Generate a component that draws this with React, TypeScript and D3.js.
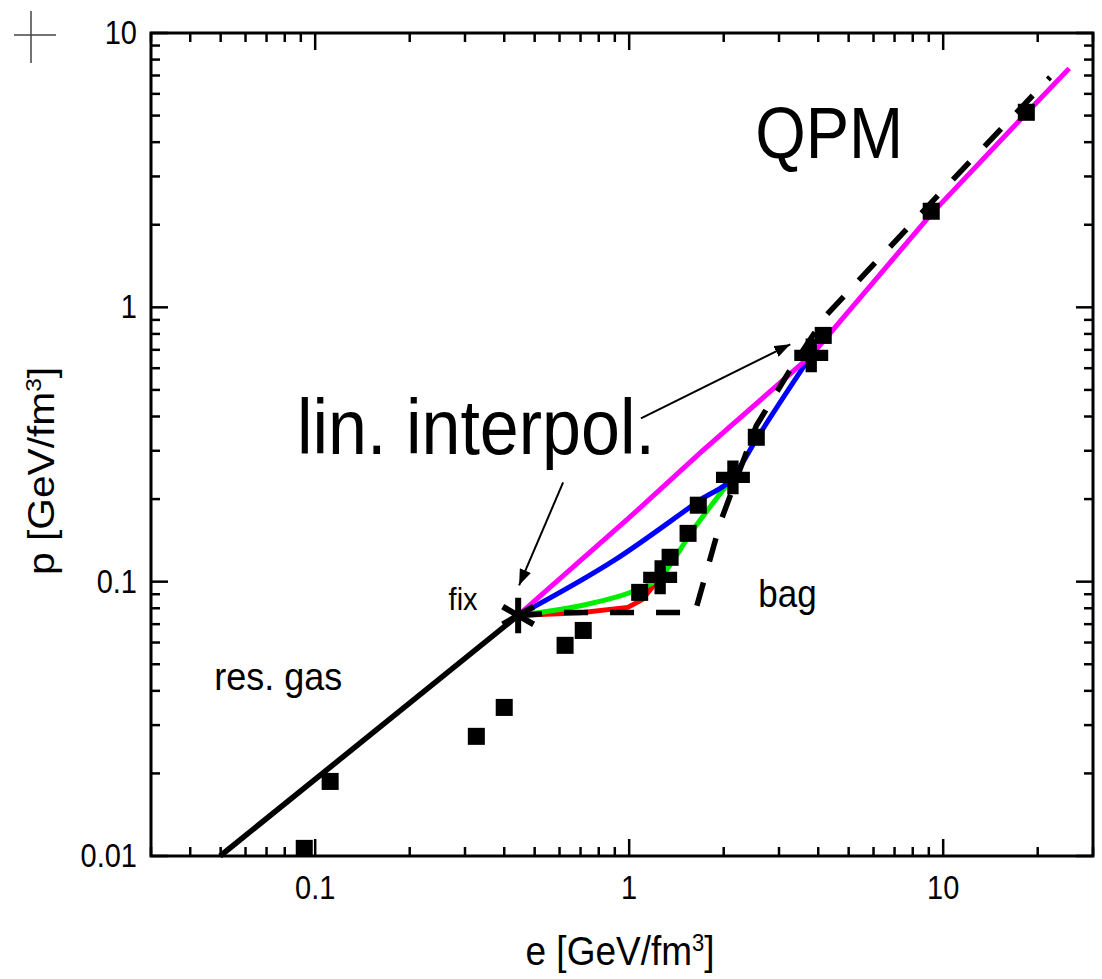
import React from "react";
import * as d3 from "d3";

type Pt = [number, number];

// ---- axes ----
const xDomain: Pt = [0.03, 30];
const yDomain: Pt = [0.01, 10];
const xTickValues = [0.1, 1, 10];
const xTickLabels = ["0.1", "1", "10"];
const yTickValues = [0.01, 0.1, 1, 10];
const yTickLabels = ["0.01", "0.1", "1", "10"];

// ---- curves (e [GeV/fm^3], p [GeV/fm^3]) ----
const resGasLine: Pt[] = [[0.0498, 0.01], [0.443, 0.0753]];
const bagLine: Pt[] = [
  [0.443, 0.0753], [0.6, 0.0772], [1.62, 0.0772], [1.96, 0.167], [2.54, 0.37],
  [3.28, 0.6], [4.24, 0.935], [10, 2.68], [21.9, 6.9],
];
const redLine: Pt[] = [[0.443, 0.0753], [0.7, 0.077], [0.99, 0.0806], [1.1, 0.086], [1.255, 0.1037]];
const greenLine: Pt[] = [[0.443, 0.0753], [0.76, 0.0834], [1.05, 0.093], [1.255, 0.1037], [1.6, 0.155], [2.14, 0.24]];
const blueLine: Pt[] = [[0.443, 0.0753], [0.9, 0.12], [1.7, 0.2], [2.14, 0.24], [2.54, 0.33], [3.8, 0.668]];
const magentaLine: Pt[] = [
  [0.443, 0.0753], [1.0, 0.171], [1.7, 0.298], [3.8, 0.668],
  [9.2, 2.2], [18.4, 5.1], [25.2, 7.43],
];

// ---- lattice data (squares) ----
const dataE = [0.0923, 0.1116, 0.326, 0.4, 0.625, 0.714, 1.08, 1.35, 1.54, 1.66, 2.54, 4.15, 9.16, 18.4];
const dataP = [0.01066, 0.0187, 0.0273, 0.0348, 0.0586, 0.0664, 0.0914, 0.1227, 0.15, 0.19, 0.336, 0.79, 2.24, 5.14];

// ---- interpolation end points (crosses) and fix point (star) ----
const crossE = [1.255, 2.14, 3.8];
const crossP = [0.1037, 0.24, 0.668];
const fixE = [0.443];
const fixP = [0.0753];

// ---- annotations ----
const labelText = ["QPM", "lin. interpol.", "fix", "bag", "res. gas"];
const labelE = [2.52, 0.0875, 0.266, 2.576, 0.0477];
const labelP = [3.49, 0.2913, 0.0786, 0.0806, 0.0402];
const labelSize = [65, 70, 29, 35, 36];

const arrowFrom: Pt[] = [[0.616, 0.23], [1.09, 0.394]];
const arrowTo: Pt[] = [[0.446, 0.097], [3.26, 0.733]];

const W = 1102;
const H = 979;
const FONT = "'Liberation Sans', Arial, Helvetica, sans-serif";
const STRETCH = 1.1;

export default function App() {
  const x = d3.scaleLog().domain(xDomain).range([151, 1093]);
  const y = d3.scaleLog().domain(yDomain).range([856, 33]);
  const [x0, x1] = x.range();
  const [y0, y1] = y.range();

  const line = d3.line<Pt>().x((d) => x(d[0])).y((d) => y(d[1]));
  const smooth = d3.line<Pt>().x((d) => x(d[0])).y((d) => y(d[1])).curve(d3.curveMonotoneX);

  const isMajor = (v: number) => Math.abs(Math.log10(v) - Math.round(Math.log10(v))) < 1e-9;
  const xt = x.ticks();
  const yt = y.ticks();
  const MAJ = 17;
  const MIN = 9;

  const square = d3.symbol(d3.symbolSquare, 290)()!;
  const cross = d3.symbol(d3.symbolCross, 640)()!;
  const star = d3.symbol(d3.symbolAsterisk, 900)()!;

  const T = (props: { x: number; y: number; size: number; anchor?: string; children: React.ReactNode; rotate?: boolean; stretch?: number }) => (
    <g transform={`translate(${props.x},${props.y}) scale(1,${props.stretch || STRETCH})`}>
      <text
        fontSize={props.size}
        fontFamily={FONT}
        textAnchor={props.anchor || "start"}
        fill="#000"
        transform={props.rotate ? "rotate(-90)" : undefined}
      >
        {props.children}
      </text>
    </g>
  );

  return (
    <svg width={W} height={H} style={{ position: "absolute", left: 0, top: 0, background: "#fff" }}>
      <defs>
        <marker id="ah" viewBox="0 0 16 12" refX="16" refY="6" markerWidth="16" markerHeight="12" markerUnits="userSpaceOnUse" orient="auto">
          <path d="M0,0 L16,6 L0,12 Z" fill="#000" />
        </marker>
      </defs>

      {/* crosshair decoration */}
      <g stroke="#444" strokeWidth={1.5}>
        <line x1={14} x2={56} y1={35} y2={35} />
        <line x1={31} x2={31} y1={11} y2={63} />
      </g>

      {/* curves */}
      <path d={line(redLine)!} fill="none" stroke="#ff0000" strokeWidth={5} strokeLinejoin="round" />
      <path d={smooth(greenLine)!} fill="none" stroke="#00ee00" strokeWidth={5} strokeLinejoin="round" />
      <path d={smooth(blueLine)!} fill="none" stroke="#0000ff" strokeWidth={5} strokeLinejoin="round" />
      <path d={line(magentaLine)!} fill="none" stroke="#ff00ff" strokeWidth={5} strokeLinejoin="round" />
      <path d={line(resGasLine)!} fill="none" stroke="#000" strokeWidth={5.5} />
      <path d={line(bagLine)!} fill="none" stroke="#000" strokeWidth={5.5} strokeDasharray="24 22" />

      {/* data squares */}
      {dataE.map((e, i) => (
        <path key={"s" + i} d={square} transform={`translate(${x(e)},${y(dataP[i])})`} fill="#000" />
      ))}
      {/* crosses */}
      {crossE.map((e, i) => (
        <path key={"c" + i} d={cross} transform={`translate(${x(e)},${y(crossP[i])})`} fill="#000" />
      ))}
      {/* fix star */}
      {fixE.map((e, i) => (
        <path key={"f" + i} d={star} transform={`translate(${x(e)},${y(fixP[i])})`} fill="none" stroke="#000" strokeWidth={6} />
      ))}

      {/* arrows */}
      {arrowFrom.map((a, i) => (
        <line
          key={"a" + i}
          x1={x(a[0])}
          y1={y(a[1])}
          x2={x(arrowTo[i][0])}
          y2={y(arrowTo[i][1])}
          stroke="#000"
          strokeWidth={2}
          markerEnd="url(#ah)"
        />
      ))}

      {/* annotations */}
      {labelText.map((t, i) => (
        <T key={"l" + i} x={x(labelE[i])} y={y(labelP[i])} size={labelSize[i]}>
          {t}
        </T>
      ))}

      {/* frame */}
      <rect x={x0} y={y1} width={x1 - x0} height={y0 - y1} fill="none" stroke="#000" strokeWidth={3} />

      {/* ticks */}
      <g stroke="#000" strokeWidth={2.5}>
        {xt.map((v, i) => {
          const L = isMajor(v) ? MAJ : MIN;
          return (
            <g key={"xt" + i}>
              <line x1={x(v)} x2={x(v)} y1={y0} y2={y0 - L} />
              <line x1={x(v)} x2={x(v)} y1={y1} y2={y1 + L} />
            </g>
          );
        })}
        {yt.map((v, i) => {
          const L = isMajor(v) ? MAJ : MIN;
          return (
            <g key={"yt" + i}>
              <line x1={x0} x2={x0 + L} y1={y(v)} y2={y(v)} />
              <line x1={x1} x2={x1 - L} y1={y(v)} y2={y(v)} />
            </g>
          );
        })}
      </g>

      {/* tick labels */}
      {xTickValues.map((v, i) => (
        <T key={"xl" + i} x={x(v)} y={y0 + 43} size={29} anchor="middle" stretch={1.15}>
          {xTickLabels[i]}
        </T>
      ))}
      {yTickValues.map((v, i) => (
        <T key={"yl" + i} x={x0 - 14} y={y(v) + 11} size={29} anchor="end" stretch={1.15}>
          {yTickLabels[i]}
        </T>
      ))}

      {/* axis titles */}
      <T x={(x0 + x1) / 2 - 2} y={965} size={37} anchor="middle">
        e [GeV/fm<tspan fontSize={22} dy={-13}>3</tspan>
        <tspan dy={13}>]</tspan>
      </T>
      <T x={54} y={471} size={37} anchor="middle" rotate>
        p [GeV/fm<tspan fontSize={22} dy={-13}>3</tspan>
        <tspan dy={13}>]</tspan>
      </T>
    </svg>
  );
}
